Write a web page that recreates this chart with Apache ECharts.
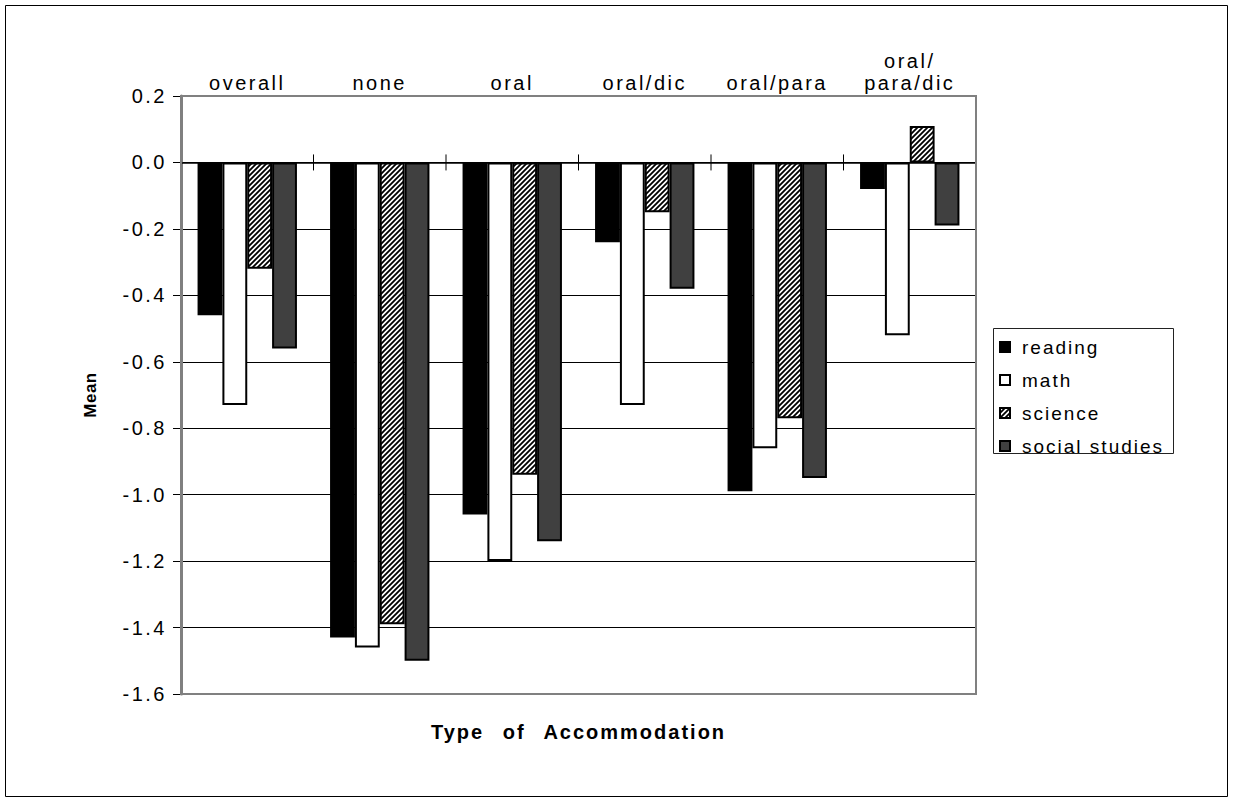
<!DOCTYPE html>
<html>
<head>
<meta charset="utf-8">
<script src="https://cdn.jsdelivr.net/npm/echarts@6/dist/echarts.min.js"></script>
<style>
  html, body { margin: 0; padding: 0; background: #fff; }
  #chart { width: 1233px; height: 803px; }
  /* slightly spread lettering, as in the printed figure */
  #chart svg text { letter-spacing: 2.5px; }
  #chart svg text[style*="19px"] { letter-spacing: 2px; }
  #chart svg text[style*="bold"] { letter-spacing: 2px; word-spacing: 11px; }
  #chart svg text[style*="bold"][style*="17px"] { letter-spacing: 0.5px; word-spacing: 0; }
</style>
</head>
<body>
<div id="chart"></div>
<script>
// Mean score difference by type of test accommodation
const categories = ['overall', 'none', 'oral', 'oral/dic', 'oral/para', 'oral/\npara/dic'];
const reading       = [-0.46, -1.43, -1.06, -0.24, -0.99, -0.08];
const math          = [-0.73, -1.46, -1.20, -0.73, -0.86, -0.52];
const science       = [-0.32, -1.39, -0.94, -0.15, -0.77, 0.11];
const socialStudies = [-0.56, -1.50, -1.14, -0.38, -0.95, -0.19];
const seriesNames = ['reading', 'math', 'science', 'social studies'];
const yMin = -1.6, yMax = 0.2, yStep = 0.2;

const FONT = "'Liberation Sans', Arial, Helvetica, sans-serif";

// diagonal hatch fill for the science bars
function hatchCanvas() {
  const s = 5;
  const c = document.createElement('canvas');
  c.width = s; c.height = s;
  const g = c.getContext('2d');
  g.fillStyle = '#fff';
  g.fillRect(0, 0, s, s);
  g.strokeStyle = '#000';
  g.lineWidth = 1.8;
  g.beginPath();
  g.moveTo(-1, s + 1); g.lineTo(s + 1, -1);
  g.moveTo(-1, 1); g.lineTo(1, -1);
  g.moveTo(s - 1, s + 1); g.lineTo(s + 1, s - 1);
  g.stroke();
  return c;
}
const hatch = { image: hatchCanvas(), repeat: 'repeat' };

const fills = ['#000000', '#ffffff', hatch, '#404040'];
const values = [reading, math, science, socialStudies];

const chart = echarts.init(document.getElementById('chart'), null, { renderer: 'svg' });

const GRID = { left: 181, top: 96, width: 795, height: 598 };

const barSeries = seriesNames.map((name, k) => ({
  name: name,
  type: 'bar',
  xAxisIndex: 0,
  yAxisIndex: 0,
  data: values[k],
  barGap: '0%',
  barCategoryGap: '25%',
  itemStyle: { color: fills[k], borderColor: '#000', borderWidth: 2 },
  emphasis: { disabled: true },
  z: 2
}));

// category boundary ticks crossing the zero line
const tickSeries = {
  type: 'custom',
  xAxisIndex: 0,
  yAxisIndex: 0,
  silent: true,
  z: 5,
  data: categories.map((c, i) => [i, 0]),
  renderItem: function (params, api) {
    const i = api.value(0);
    const band = api.size([1, 0])[0];
    const p = api.coord([i, 0]);
    const mk = (x) => ({
      type: 'line',
      shape: { x1: x, y1: p[1] - 8, x2: x, y2: p[1] + 8 },
      style: { stroke: '#000', lineWidth: 1 }
    });
    const kids = [mk(p[0] - band / 2)];
    if (i === categories.length - 1) kids.push(mk(p[0] + band / 2));
    return { type: 'group', children: kids };
  }
};

chart.setOption({
  animation: false,
  backgroundColor: '#fff',
  textStyle: { fontFamily: FONT, color: '#000' },
  grid: Object.assign({ outerBoundsMode: 'none', containLabel: false }, GRID),
  legend: {
    data: seriesNames,
    orient: 'vertical',
    left: 999,
    top: 337,
    padding: 0,
    itemWidth: 10,
    itemHeight: 10,
    itemGap: 13,
    selectedMode: false,
    icon: 'rect',
    textStyle: { fontFamily: FONT, fontSize: 19, lineHeight: 20, color: '#000', padding: [0, 0, 0, 7] }
  },
  xAxis: [
    {
      type: 'category',
      data: categories,
      position: 'top',
      axisLine: { show: false, onZero: false },
      axisTick: { show: false },
      splitLine: { show: false },
      axisLabel: { interval: 0, margin: 2, fontSize: 20, lineHeight: 22, color: '#000', fontFamily: FONT }
    },
    {
      type: 'category',
      data: categories,
      position: 'bottom',
      axisLine: { show: true, onZero: true, lineStyle: { color: '#000', width: 1.5 } },
      axisTick: { show: false },
      axisLabel: { show: false },
      splitLine: { show: false }
    },
    {
      type: 'category',
      data: categories,
      position: 'bottom',
      axisLine: { show: false, onZero: false },
      axisTick: { show: false },
      axisLabel: { show: false },
      splitLine: { show: false },
      name: 'Type of Accommodation',
      nameLocation: 'middle',
      nameGap: 28,
      nameTextStyle: { fontFamily: FONT, fontSize: 20, fontWeight: 'bold', color: '#000' }
    }
  ],
  yAxis: {
    type: 'value',
    min: yMin,
    max: yMax,
    interval: yStep,
    position: 'left',
    axisLine: { show: true, onZero: false, lineStyle: { color: '#808080', width: 3 } },
    axisTick: { show: true, length: 8, lineStyle: { color: '#000', width: 1 } },
    splitLine: { show: true, lineStyle: { color: '#000', width: 1 } },
    axisLabel: {
      margin: 14,
      fontSize: 20,
      color: '#000',
      fontFamily: FONT,
      padding: [6, 0, 0, 0],
      formatter: (v) => v.toFixed(1)
    },
    name: 'Mean',
    nameLocation: 'middle',
    nameGap: 82,
    nameTextStyle: { fontFamily: FONT, fontSize: 17, fontWeight: 'bold', color: '#000' }
  },
  graphic: [
    {
      type: 'rect',
      z: 100,
      silent: true,
      shape: { x: GRID.left, y: GRID.top, width: GRID.width, height: GRID.height },
      style: { fill: null, stroke: '#808080', lineWidth: 2 }
    },
    {
      type: 'rect',
      z: 100,
      silent: true,
      shape: { x: 993.5, y: 328.5, width: 180, height: 125 },
      style: { fill: null, stroke: '#222', lineWidth: 1 }
    },
    {
      type: 'rect',
      z: 100,
      silent: true,
      shape: { x: 5.5, y: 5.5, width: 1222, height: 791 },
      style: { fill: null, stroke: '#000', lineWidth: 1 }
    }
  ],
  series: barSeries.concat([tickSeries])
});
</script>
</body>
</html>
